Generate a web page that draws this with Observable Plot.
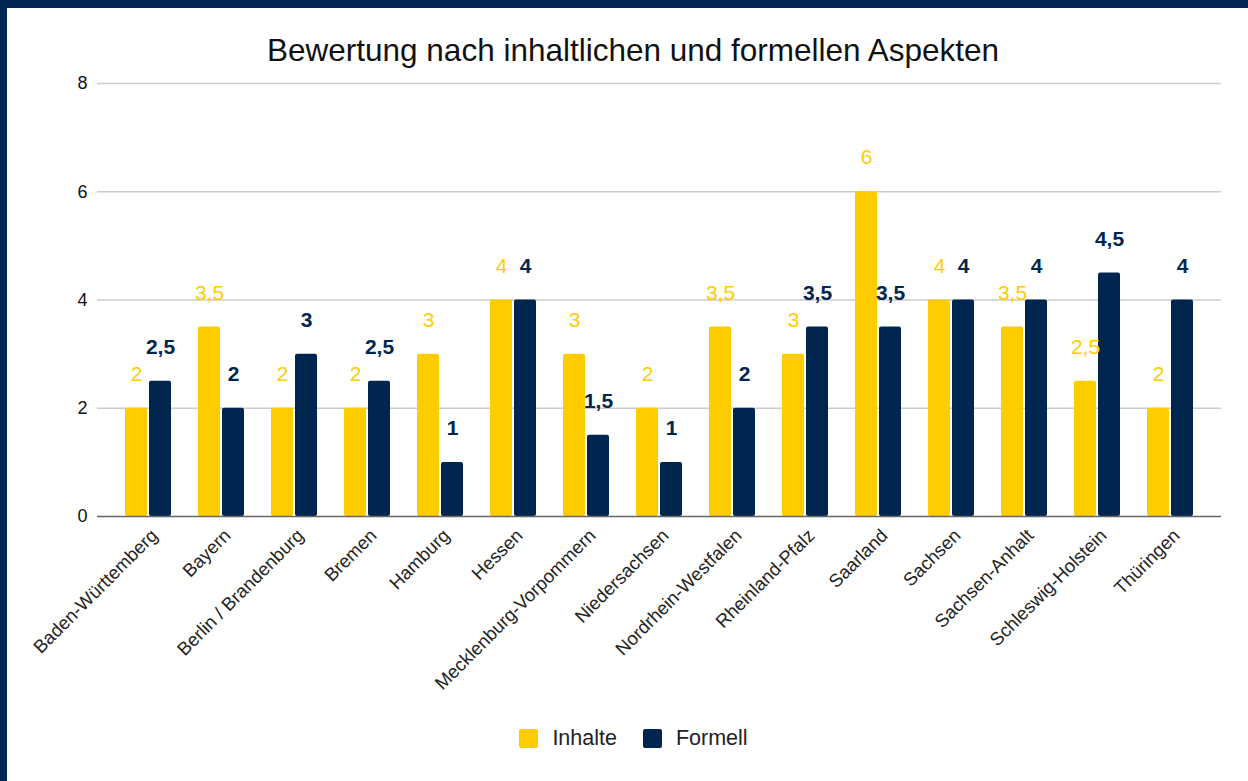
<!DOCTYPE html>
<html>
<head>
<meta charset="utf-8">
<script src="https://cdn.jsdelivr.net/npm/d3@7"></script>
<script src="https://cdn.jsdelivr.net/npm/@observablehq/plot@0.6"></script>
<style>
  html, body { margin: 0; padding: 0; background: #022752; width: 1248px; height: 781px; overflow: hidden; }
  #panel { position: absolute; left: 7px; top: 8px; width: 1241px; height: 773px; background: #fff; font-family: "Liberation Sans", Arial, sans-serif; }
  #title { position: absolute; left: 11px; width: 1230px; top: 23px; text-align: center; font-size: 31.5px; line-height: 38px; color: #111; }
  #chart { position: absolute; left: 0; top: 62px; }
  #legend { position: absolute; left: 12px; width: 1229px; top: 718px; display: flex; justify-content: center; align-items: center; font-size: 21.5px; color: #222; }
  .sw { width: 19px; height: 19px; border-radius: 2px; display: inline-block; margin-right: 14px; }
  .item { display: flex; align-items: center; margin: 0 13px; }
</style>
</head>
<body>
<div id="panel">
  <div id="title">Bewertung nach inhaltlichen und formellen Aspekten</div>
  <div id="chart"></div>
  <div id="legend"></div>
</div>
<script>
const states = ["Baden-Württemberg", "Bayern", "Berlin / Brandenburg", "Bremen", "Hamburg", "Hessen", "Mecklenburg-Vorpommern", "Niedersachsen", "Nordrhein-Westfalen", "Rheinland-Pfalz", "Saarland", "Sachsen", "Sachsen-Anhalt", "Schleswig-Holstein", "Thüringen"];
const inhalte = [2, 3.5, 2, 2, 3, 4, 3, 2, 3.5, 3, 6, 4, 3.5, 2.5, 2];
const formell = [2.5, 2, 3, 2.5, 1, 4, 1.5, 1, 2, 3.5, 3.5, 4, 4, 4.5, 4];
const seriesNames = ["Inhalte", "Formell"];
const yTicks = [0, 2, 4, 6, 8];

const YELLOW = "#FFCC00";
const NAVY = "#00264F";

const data = states.map((s, i) => ({state: s, inhalte: inhalte[i], formell: formell[i]}));
const fmt = v => String(v).replace(".", ",");

const chart = Plot.plot({
  width: 1241,
  height: 640,
  marginLeft: 90,
  marginRight: 27,
  marginTop: 13,
  marginBottom: 194,
  style: {fontFamily: "'Liberation Sans', Arial, sans-serif", fontSize: "18px", color: "#222"},
  x: {domain: states, paddingInner: 0.7, paddingOuter: 0.52, label: null},
  y: {domain: [0, 8], label: null},
  marks: [
    Plot.ruleY(yTicks.filter(d => d > 0), {stroke: "#cccccc", strokeWidth: 1.3}),
    Plot.barY(data, {x: "state", y: "inhalte", fill: YELLOW, dx: -12, rx: 2}),
    Plot.barY(data, {x: "state", y: "formell", fill: NAVY, dx: 12, rx: 2}),
    Plot.ruleY([0], {stroke: "#666", strokeWidth: 1.5}),
    Plot.text(data, {x: "state", y: "inhalte", text: d => fmt(d.inhalte), dx: -12, dy: -34, fill: YELLOW, fontSize: 21}),
    Plot.text(data, {x: "state", y: "formell", text: d => fmt(d.formell), dx: 12, dy: -34, fill: NAVY, fontSize: 21, fontWeight: "bold"}),
    Plot.axisY({ticks: yTicks, tickSize: 0, tickPadding: 10, fontSize: 18, fill: "#111", label: null}),
    Plot.axisX({tickRotate: -45, tickSize: 0, tickPadding: 16, dx: 6, fontSize: 18.5, fill: "#222", label: null})
  ]
});
document.getElementById("chart").appendChild(chart);

const legend = document.getElementById("legend");
[[seriesNames[0], YELLOW], [seriesNames[1], NAVY]].forEach(([name, color]) => {
  const it = document.createElement("div");
  it.className = "item";
  it.innerHTML = `<span class="sw" style="background:${color}"></span><span>${name}</span>`;
  legend.appendChild(it);
});
</script>
</body>
</html>
